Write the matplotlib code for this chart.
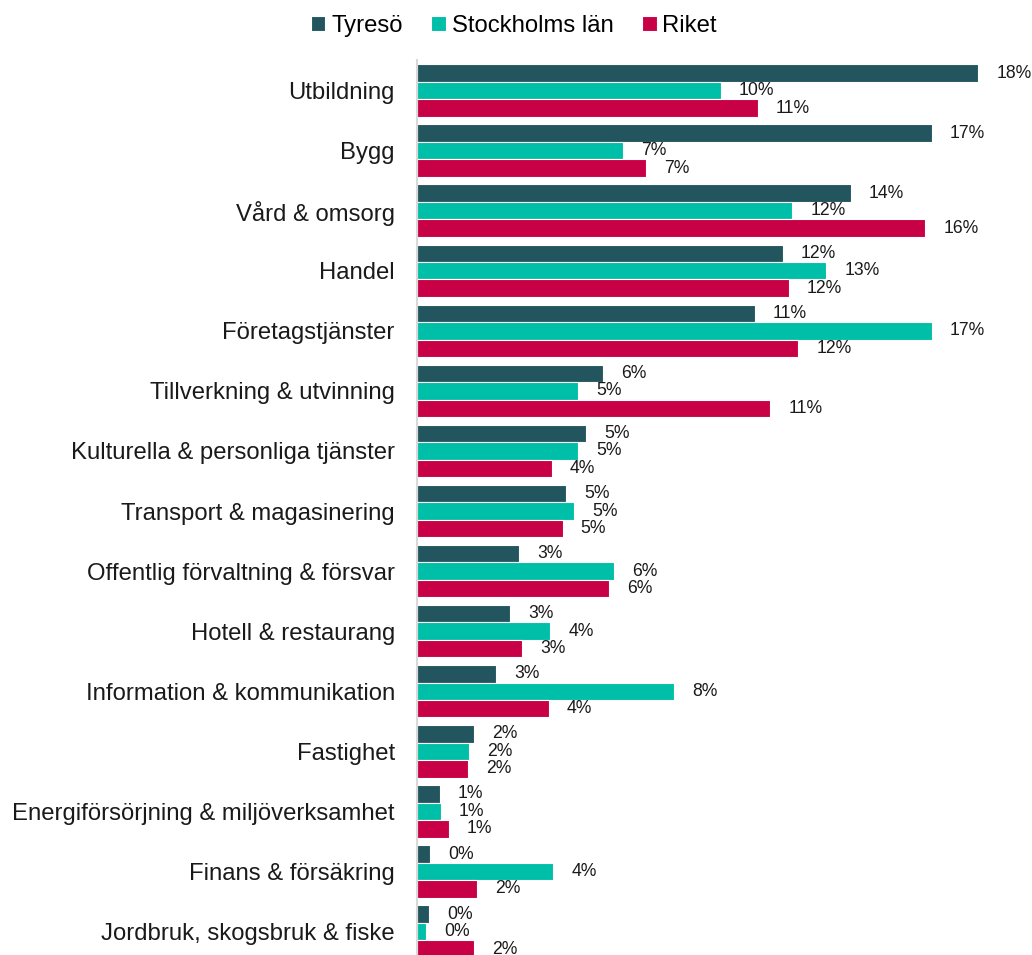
import numpy as np
import matplotlib
matplotlib.use("Agg")
import matplotlib.pyplot as plt

plt.rcParams['font.family'] = ['Liberation Sans', 'DejaVu Sans']

# andel sysselsatta per bransch, procent
categories = [
    "Utbildning", "Bygg", "Vård & omsorg", "Handel", "Företagstjänster",
    "Tillverkning & utvinning", "Kulturella & personliga tjänster",
    "Transport & magasinering", "Offentlig förvaltning & försvar",
    "Hotell & restaurang", "Information & kommunikation", "Fastighet",
    "Energiförsörjning & miljöverksamhet", "Finans & försäkring",
    "Jordbruk, skogsbruk & fiske",
]
tyreso = [18.1, 16.6, 14.0, 11.8, 10.9, 6.0, 5.45, 4.8, 3.3, 3.0, 2.55, 1.84, 0.74, 0.42, 0.39]
stockholm = [9.8, 6.65, 12.1, 13.2, 16.6, 5.2, 5.2, 5.06, 6.35, 4.3, 8.3, 1.68, 0.77, 4.4, 0.29]
riket = [11.0, 7.4, 16.4, 12.0, 12.3, 11.4, 4.35, 4.7, 6.2, 3.4, 4.26, 1.65, 1.03, 1.94, 1.84]

series = [("Tyresö", tyreso, "#22555E"),
          ("Stockholms län", stockholm, "#00BFA8"),
          ("Riket", riket, "#C80045")]

W, H = 1032, 955
fig = plt.figure(figsize=(W / 100, H / 100), dpi=100)
ax = fig.add_axes([417 / W, 0.0, 615 / W, 895 / H])

y = np.arange(len(categories))
h = 0.291
for i, (name, vals, col) in enumerate(series):
    pos = y + (i - 1) * h
    bars = ax.barh(pos, vals, height=h, color=col, edgecolor="white",
                   linewidth=0.8, label=name)
    for b, v in zip(bars, vals):
        ax.annotate(f"{v:.0f}%", (b.get_width(), b.get_y() + b.get_height() / 2),
                    xytext=(13, 0), textcoords="offset points",
                    ha="left", va="center", fontsize=12.7, color="#1a1a1a")

ax.set_xlim(0, 615 / 31)
ax.set_ylim(len(categories) - 1 + 0.39, -0.508)
ax.set_yticks(y)
ax.set_yticklabels(categories, fontsize=17.2, color="#1a1a1a")
ax.tick_params(axis="y", length=0, pad=16)
ax.set_xticks([])
for s in ["top", "right", "bottom"]:
    ax.spines[s].set_visible(False)
ax.spines["left"].set_color("#D9D9D9")
ax.spines["left"].set_linewidth(1.5)

fig.legend(loc="center", bbox_to_anchor=(514 / W, 1 - 26 / H), ncol=3,
           frameon=False, fontsize=17.2, handlelength=0.6, handleheight=0.6,
           handletextpad=0.25, columnspacing=1.2, borderaxespad=0)

fig.savefig("out.png", dpi=100)
